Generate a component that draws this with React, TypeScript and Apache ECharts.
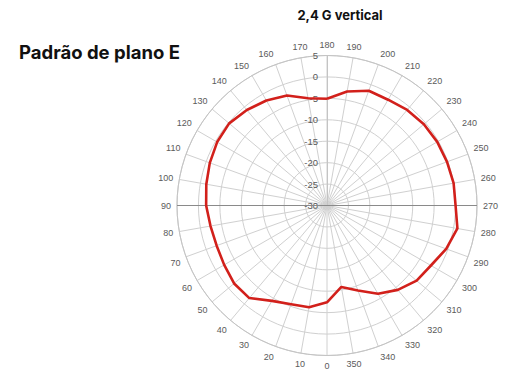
import React, { useEffect, useRef } from "react";
import * as echarts from "echarts";

// Measurement angles (degrees) and gain values (dB)
const angles = [0, 10, 20, 30, 40, 50, 60, 70, 80, 90, 100, 110, 120, 130, 140, 150, 160, 170,
  180, 190, 200, 210, 220, 230, 240, 250, 260, 270, 280, 290, 300, 310, 320, 330, 340, 350];
const gains = [-7.4, -5.9, -5.5, -4.3, -1.8, -1.7, -2.3, -2.6, -2.4, -1.8, -1.4, -0.9, -0.4, -0.2, -0.9, -1.7, -2.7, -4.6,
  -5.1, -3.0, -1.5, -1.5, -0.9, -0.5, -0.3, -0.2, 0, 0, 0.9, -0.4, -2.0, -2.7, -4.3, -6.2, -8.9, -10.7];

const radiusMin = -30;
const radiusMax = 5;
const radiusStep = 5;
const angleStart = 180; // angle shown at the top
const mainTitle = "Padrão de plano E";
const chartTitle = "2,4 G vertical";

export default function App() {
  const ref = useRef<HTMLDivElement>(null);
  useEffect(() => {
    if (!ref.current) return;
    const chart = echarts.init(ref.current, undefined, { renderer: "svg" });
    const mapA = (a: number) => (a < angleStart ? a + 360 : a);
    const pts = angles
      .map((a, i) => [gains[i], mapA(a)])
      .sort((p, q) => p[1] - q[1]);
    pts.push([pts[0][0], pts[0][1] + 360]);

    const labelFont = { fontFamily: "Liberation Sans", fontSize: 9, color: "#5a5a5a" };
    chart.setOption({
      animation: false,
      polar: { center: [327, 205.5], radius: 150 },
      angleAxis: {
        type: "value",
        min: angleStart,
        max: angleStart + 360,
        interval: 10,
        startAngle: 90,
        clockwise: true,
        axisLine: { show: true, lineStyle: { color: "#c4c4c4", width: 1 } },
        axisTick: { show: false },
        axisLabel: {
          ...labelFont,
          margin: 6,
          formatter: (v: number) => (v >= angleStart + 360 ? "" : String(v % 360)),
        },
        splitLine: { show: true, lineStyle: { color: "#d0d0d0", width: 1 } },
      },
      radiusAxis: {
        type: "value",
        min: radiusMin,
        max: radiusMax,
        interval: radiusStep,
        axisLine: { show: true, lineStyle: { color: "#c4c4c4" } },
        axisTick: { show: false },
        axisLabel: { ...labelFont, fontSize: 9.5, margin: 9 },
        splitLine: { show: true, lineStyle: { color: "#d0d0d0", width: 1 } },
      },
      series: [
        {
          type: "line",
          coordinateSystem: "polar",
          data: [[radiusMax, 270], [radiusMax, 450]],
          showSymbol: false,
          silent: true,
          lineStyle: { color: "#8a8a8a", width: 1 },
          z: 1,
        },
        {
          type: "line",
          coordinateSystem: "polar",
          data: pts,
          showSymbol: false,
          lineStyle: { color: "#d2201b", width: 2.6 },
          z: 3,
        },
      ],
      graphic: [
        {
          type: "text",
          x: 19,
          y: 52,
          style: {
            text: mainTitle,
            font: "bold 18.5px Inter",
            fill: "#111",
            textVerticalAlign: "middle",
          },
        },
        {
          type: "text",
          x: 340,
          y: 15,
          style: {
            text: chartTitle,
            font: "bold 13px Inter",
            fill: "#111",
            textAlign: "center",
            textVerticalAlign: "middle",
          },
        },
      ],
    });
    return () => chart.dispose();
  }, []);
  return (
    <div
      ref={ref}
      style={{ position: "fixed", left: 0, top: 0, width: 509, height: 374, background: "#fff" }}
    />
  );
}
